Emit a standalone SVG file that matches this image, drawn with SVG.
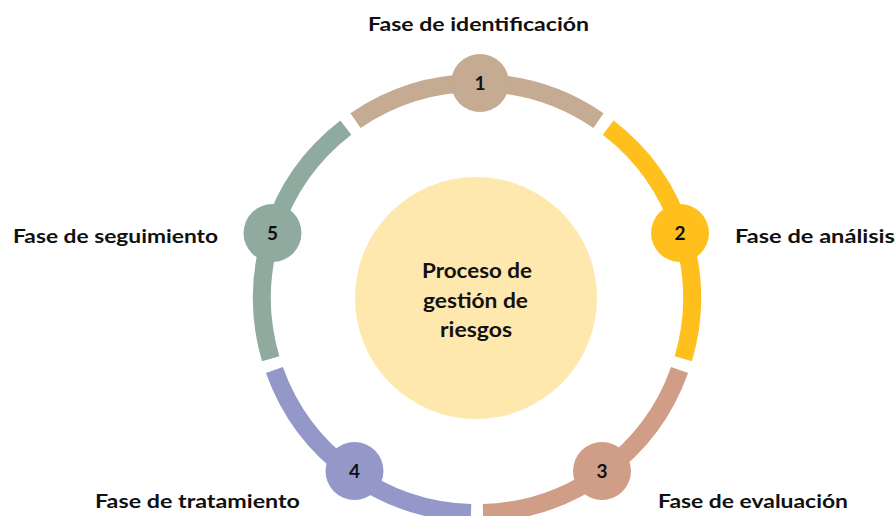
<svg xmlns="http://www.w3.org/2000/svg" width="896" height="516" viewBox="0 0 896 516">
<style>
.seg{fill:none;stroke-width:18;stroke-linecap:butt}
.lbl{font-family:"Lato","Liberation Sans",sans-serif;font-weight:bold;font-size:18.5px;fill:#111}
.num{font-family:"Lato","Liberation Sans",sans-serif;font-weight:bold;font-size:19px;fill:#111;text-anchor:middle}
.ctr{font-family:"Lato","Liberation Sans",sans-serif;font-weight:bold;font-size:21.5px;fill:#111;text-anchor:middle}
</style>
<rect width="896" height="516" fill="#fff"/>
<g id="center">
<circle cx="476" cy="298" r="121" fill="#FFE8AE"/>
<text class="ctr" x="477" y="278" textLength="110" lengthAdjust="spacingAndGlyphs">Proceso de</text>
<text class="ctr" x="475.5" y="308" textLength="105" lengthAdjust="spacingAndGlyphs">gestión de</text>
<text class="ctr" x="476" y="337" textLength="72" lengthAdjust="spacingAndGlyphs">riesgos</text>
</g>
<g id="connectors">
<path class="seg" stroke="#C4AB91" d="M355.5 120.6 A215 215 0 0 1 598.5 120.6"/>
<path class="seg" stroke="#FFC01E" d="M608.2 127.7 A215 215 0 0 1 683.3 358.7"/>
<path class="seg" stroke="#D09D87" d="M679.6 370.1 A215 215 0 0 1 483 512.9"/>
<path class="seg" stroke="#9398C9" d="M471 512.9 A215 215 0 0 1 274.4 370.1"/>
<path class="seg" stroke="#8FAA9F" d="M270.7 358.7 A215 215 0 0 1 345.8 127.7"/>
</g>
<g id="node1">
<circle cx="480" cy="83" r="29" fill="#C4AB91"/>
<text class="num" x="480" y="90">1</text>
<text class="lbl" x="368" y="31" textLength="221" lengthAdjust="spacingAndGlyphs">Fase de identificación</text>
</g>
<g id="node2">
<circle cx="680" cy="233" r="29" fill="#FFC01E"/>
<text class="num" x="680" y="240">2</text>
<text class="lbl" x="735" y="243" textLength="160" lengthAdjust="spacingAndGlyphs">Fase de análisis</text>
</g>
<g id="node3">
<circle cx="602" cy="471" r="29" fill="#D09D87"/>
<text class="num" x="602" y="478">3</text>
<text class="lbl" x="658" y="508" textLength="190" lengthAdjust="spacingAndGlyphs">Fase de evaluación</text>
</g>
<g id="node4">
<circle cx="354.5" cy="471" r="29" fill="#9398C9"/>
<text class="num" x="354.5" y="478">4</text>
<text class="lbl" x="95" y="508" textLength="205" lengthAdjust="spacingAndGlyphs">Fase de tratamiento</text>
</g>
<g id="node5">
<circle cx="272.5" cy="233" r="29" fill="#8FAA9F"/>
<text class="num" x="272.5" y="240">5</text>
<text class="lbl" x="13" y="243" textLength="205" lengthAdjust="spacingAndGlyphs">Fase de seguimiento</text>
</g>
</svg>
